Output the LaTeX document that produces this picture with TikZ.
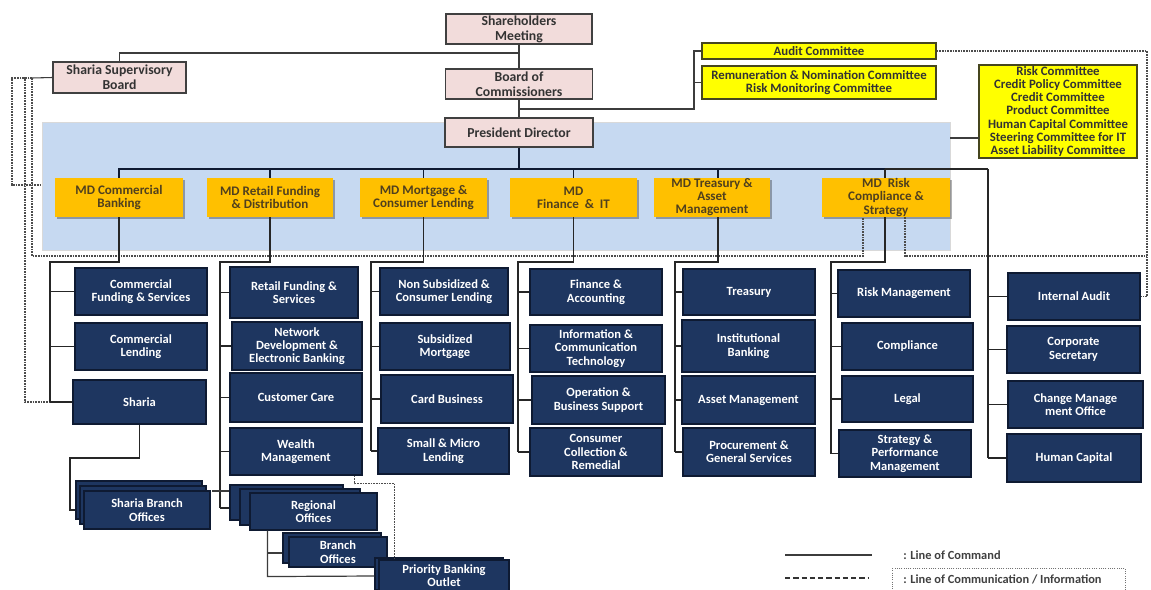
\documentclass[tikz,border=0pt]{standalone}
\usepackage{fontspec}
\setmainfont{Carlito}
\usetikzlibrary{shadows,calc}
\definecolor{navy}{RGB}{30,54,96}
\definecolor{navyedge}{RGB}{14,26,50}
\definecolor{pinkf}{RGB}{242,220,219}
\definecolor{mdor}{RGB}{255,192,0}
\definecolor{mdtext}{RGB}{80,64,30}
\definecolor{panelc}{RGB}{198,217,241}
\definecolor{yell}{RGB}{255,255,0}
\definecolor{yedge}{RGB}{70,70,30}
\definecolor{lineg}{RGB}{60,60,60}
\tikzset{
 bw/.style={minimum width=#1*0.75pt},
 bh/.style={minimum height=#1*0.75pt},
 base/.style={rectangle, align=center, inner sep=0.5pt, font=\bfseries\fontsize{9.4}{10}\selectfont},
 pinkbox/.style={base, draw=black!75, fill=pinkf, line width=0.8pt, text=black!80, font=\bfseries\fontsize{10.3}{11.2}\selectfont},
 yelbox/.style={base, draw=yedge, fill=yell, line width=0.8pt, text=black!80, font=\bfseries\fontsize{9.6}{9.9}\selectfont},
 mdbox/.style={base, fill=mdor, text=mdtext, drop shadow={shadow xshift=1.2pt, shadow yshift=-1.2pt, fill=black, opacity=0.3}, font=\bfseries\fontsize{9.8}{9.8}\selectfont},
 navybox/.style={base, draw=navyedge, fill=navy, line width=0.8pt, text=white},
 stackbox/.style={draw=navyedge, fill=navy, line width=0.8pt},
 cmd/.style={draw=lineg, line width=0.8pt},
 cmdk/.style={draw=black!85, line width=1.1pt},
 comm/.style={draw=black!70, line width=0.9pt, dash pattern=on 1.3pt off 0.7pt},
 legtext/.style={anchor=west, text=black!75, inner sep=0pt, font=\bfseries\fontsize{9.3}{10}\selectfont},
}
\newcommand\mybox[6]{\node[#1,bw=#4,bh=#5] (#2) at (#3) {#6};}
\begin{document}
\begin{tikzpicture}[x=0.75pt,y=-0.75pt]
\fill[white] (0,0) rectangle (1151,589);
\useasboundingbox (0,0) rectangle (1151,589);

% panel
\node[fill=panelc, draw=black!15, bw=908, bh=128, inner sep=0] (panel) at (496,186) {};

% top boxes
\mybox{pinkbox}{sm}{519,29}{146}{30}{Shareholders\\Meeting}
\mybox{pinkbox}{bc}{519,84}{147}{30}{Board of\\Commissioners}
\mybox{pinkbox}{pd}{519,132.5}{148}{29}{President Director}
\mybox{pinkbox}{ssb}{119.5,77.5}{133}{31}{Sharia Supervisory\\Board}
\mybox{yelbox}{ac}{819,51}{234}{16}{Audit Committee}
\mybox{yelbox}{rc}{819,82.5}{234}{33}{Remuneration \& Nomination Committee\\Risk Monitoring Committee}
\mybox{yelbox}{rcm}{1058,111.5}{158}{93}{Risk Committee\\Credit Policy Committee\\Credit Committee\\Product Committee\\Human Capital Committee\\Steering Committee for IT\\Asset Liability Committee}

% coordinates
\coordinate (j1) at (519,53);
\coordinate (j2) at (519,109);
\coordinate (jc) at (694,51);
\coordinate (jr) at (694,82.5);
\coordinate (rk) at (979,138);
\coordinate (bus) at (519,169);
\coordinate (busM) at (885,169);
\coordinate (busR) at (988,169);
\coordinate (d0) at (32,78);
\coordinate (dA) at (12,185);
\coordinate (dB) at (25,402);
\coordinate (dC) at (32,256);
\coordinate (rr) at (1147,296.5);
\coordinate (rr2) at (1147,256);

% top lines
\draw[cmd] (sm.south) -- (bc.north);
\draw[cmd] (ssb.north) |- (j1);
\draw[cmd] (bc.south) -- (pd.north);
\draw[cmd] (j2) -| (jc) -- (ac.west);
\draw[cmd] (jr) -- (rc.west);
\draw[cmd] (panel.east |- rk) -- (rk);

% MD boxes
\mybox{mdbox}{mdcb}{119,197.5}{128}{39}{MD Commercial\\Banking}
\mybox{mdbox}{mdrf}{270,197.5}{126}{39}{MD Retail Funding\\\& Distribution}
\mybox{mdbox}{mdml}{423.5,197.5}{127}{39}{MD Mortgage \&\\Consumer Lending}
\mybox{mdbox}{mdfi}{573.5,197.5}{127}{39}{MD\\Finance \ \& \ IT}
\mybox{mdbox}{mdta}{712,197.5}{116}{39}{MD Treasury \&\\Asset\\Management}
\mybox{mdbox}{mdrs}{886,197.5}{128}{39}{MD \ Risk\\Compliance \&\\Strategy}

% bus
\draw[cmd, draw=navyedge] (pd.south) -- (bus);
\draw[cmd, draw=navyedge] (mdcb.north) |- (busM);
\draw[cmdk] (busM) -- (busR);
\foreach \m in {mdrf,mdml,mdfi} \draw[cmd, draw=navyedge] (\m.north) -- (\m.north |- bus);
\draw[cmd, draw=navyedge] ($(mdta.north)+(6,0)$) -- ($(mdta.north |- bus)+(6,0)$);
\draw[cmdk] (mdrs.north -| busM) -- (busM);

% column 1
\mybox{navybox}{cfs}{141,291.5}{132}{47}{Commercial\\Funding \& Services}
\mybox{navybox}{cl}{141,346.5}{132}{47}{Commercial\\Lending}
\mybox{navybox}{sha}{139.5,402}{133}{44}{Sharia}
% column 2
\mybox{navybox}{rfs}{294,292.5}{128}{51}{Retail Funding \&\\Services}
\mybox{navybox}{ndeb}{297,346}{130}{48}{Network\\Development \&\\Electronic Banking}
\mybox{navybox}{cc}{296,397.5}{132}{49}{Customer Care}
\mybox{navybox}{wm}{296,451.5}{132}{47}{Wealth\\Management}
% column 3
\mybox{navybox}{nscl}{444,291.5}{128}{47}{Non Subsidized \&\\Consumer Lending}
\mybox{navybox}{smo}{445,346.5}{130}{47}{Subsidized\\Mortgage}
\mybox{navybox}{cbu}{447,399}{132}{48}{Card Business}
\mybox{navybox}{sml}{443.5,451}{131}{46}{Small \& Micro\\Lending}
% column 4
\mybox{navybox}{fa}{596,292}{132}{46}{Finance \&\\Accounting}
\mybox{navybox}{ict}{596,348.5}{132}{47}{Information \&\\Communication\\Technology}
\mybox{navybox}{obs}{598.5,400}{133}{48}{Operation \&\\Business Support}
\mybox{navybox}{ccr}{596,452}{132}{48}{Consumer\\Collection \&\\Remedial}
% column 5
\mybox{navybox}{tr}{749,292}{132}{46}{Treasury}
\mybox{navybox}{ib}{748.5,346}{133}{52}{Institutional\\Banking}
\mybox{navybox}{am}{748.5,400}{133}{48}{Asset Management}
\mybox{navybox}{pgs}{749,452}{132}{48}{Procurement \&\\General Services}
% column 6
\mybox{navybox}{rm}{904,293.5}{132}{47}{Risk Management}
\mybox{navybox}{co}{907.5,346.5}{131}{47}{Compliance}
\mybox{navybox}{le}{907.5,399}{131}{46}{Legal}
\mybox{navybox}{spm}{905,453.5}{132}{47}{Strategy \&\\Performance\\Management}
% column 7
\mybox{navybox}{ia}{1074,296.5}{132}{47}{Internal Audit}
\mybox{navybox}{cs}{1073.5,349.5}{133}{47}{Corporate\\Secretary}
\mybox{navybox}{cmo}{1075.5,404.5}{135}{47}{Change Manage\\ment Office}
\mybox{navybox}{hc}{1074,458}{134}{48}{Human Capital}

% dashed communication lines
\draw[cmd] (ssb.west) -- (d0);
\draw[comm] (d0) -| (dA) -- (panel.west |- dA);
\draw[comm] (d0) -| (dB) -- (sha.west);
\draw[comm] (d0) -- (dC) -| ($(mdrs.south)+(-23,0)$);
\draw[comm] ($(mdrs.south)+(19,0)$) |- (rr2);
\draw[comm] (ac.east) -| (rr) -- (ia.east);

% column connectors
\coordinate (v1) at (50,262);
\coordinate (v2) at (220,262);
\coordinate (v3) at (371,262);
\coordinate (v4) at (518,262);
\coordinate (v5) at (675,262);
\coordinate (v6) at (831,262);
\draw[cmdk] (mdcb.south) |- (v1) -- (v1 |- sha.west);
\foreach \c in {cfs,cl,sha} \draw[cmdk] (v1 |- \c.west) -- (\c.west);
\draw[cmdk] (mdrf.south) |- (v2) -- (220,508);
\foreach \c in {rfs,ndeb,cc,wm} \draw[cmdk] (v2 |- \c.west) -- (\c.west);
\draw[cmdk] (mdml.south) |- (v3) -- (v3 |- sml.west);
\foreach \c in {nscl,smo,cbu,sml} \draw[cmdk] (v3 |- \c.west) -- (\c.west);
\draw[cmdk] (mdfi.south) |- (v4) -- (v4 |- ccr.west);
\foreach \c in {fa,ict,obs,ccr} \draw[cmdk] (v4 |- \c.west) -- (\c.west);
\draw[cmdk] ($(mdta.south)+(6,0)$) |- (v5) -- (v5 |- pgs.west);
\foreach \c in {tr,ib,am,pgs} \draw[cmdk] (v5 |- \c.west) -- (\c.west);
\draw[cmdk] (mdrs.south -| busM) |- (v6) -- (v6 |- spm.west);
\foreach \c in {rm,co,le,spm} \draw[cmdk] (v6 |- \c.west) -- (\c.west);
\draw[cmdk] (busR) -- (busR |- hc.west);
\foreach \c in {ia,cs,cmo,hc} \draw[cmdk] (busR |- \c.west) -- (\c.west);

% Sharia branch offices (stack)
\node[stackbox, bw=126, bh=38] (sbo1) at (139,500) {};
\node[stackbox, bw=126, bh=38] (sbo2) at (143,505) {};
\node[navybox, bw=126, bh=38] (sbo3) at (147,510) {Sharia Branch\\Offices};
\coordinate (s0) at (70,458);
\coordinate (s1) at (70,510);
\draw[cmdk] (sha.south) |- (s0) -- (s1) -- (sbo1.west |- s1);

% Regional offices (stack)
\node[stackbox, bw=113, bh=35] (ro1) at (286.5,502.5) {};
\node[stackbox, bw=120, bh=36] (ro2) at (300,507) {};
\node[navybox, bw=127, bh=37] (ro3) at (313.5,511.5) {Regional\\Offices};
\coordinate (r491) at (212,491);
\draw[cmdk] (220,508) -- (ro1.west |- 0,508);
\draw[cmd] (r491) -- (ro1.west |- r491);

% Branch offices (stack)
\node[stackbox, bw=98, bh=30] (bo1) at (332,548) {};
\node[navybox, bw=98, bh=30] (bo2) at (338,552) {Branch\\Offices};

% Priority banking outlet (stack)
\node[stackbox, bw=128, bh=32] (po1) at (439,574) {};
\node[navybox, bw=130, bh=31] (po2) at (444,575.5) {Priority Banking\\Outlet};

\coordinate (rv) at ($(ro3.south west)+(18,0)$);
\draw[cmd, line width=0.9pt] (rv) -- ++(0,46) -- (po1.west |- 0,576);
\draw[cmd, line width=0.9pt] (rv |- 0,553) -- (bo1.west |- 0,553);

% wealth dashed
\draw[comm] ($(wm.south east)+(-8,0)$) -- ++(0,8) -| ($(po2.north west)+(16,0)$);

% legend
\draw[cmd] (785,555) -- (872,555);
\node[legtext] (leg1) at (903,555) {: Line of Command};
\draw[black!80, line width=1.6pt, dash pattern=on 4pt off 2.2pt] (785,578) -- (868,578);
\draw[black!55, densely dotted, line width=0.7pt] (892,568) rectangle (1125,594);
\node[legtext] (leg2) at (903,579) {: Line of Communication / Information};
\end{tikzpicture}
\end{document}
